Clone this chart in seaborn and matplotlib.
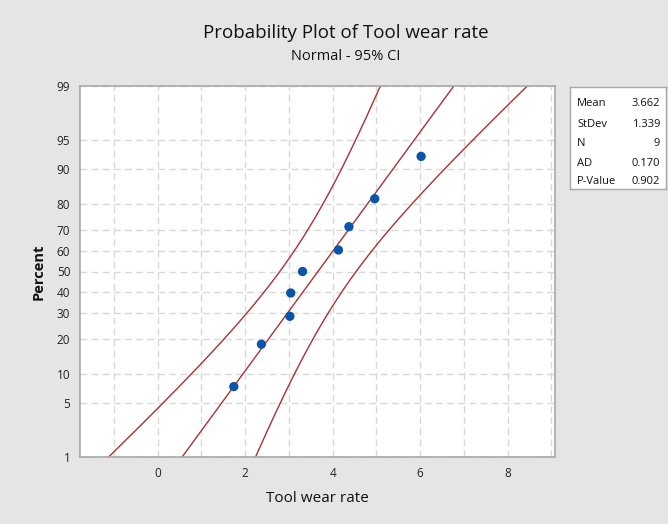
import numpy as np
import pandas as pd
import matplotlib
matplotlib.use("Agg")
import matplotlib.pyplot as plt
from matplotlib.ticker import FixedLocator, MultipleLocator
import seaborn as sns
from statistics import NormalDist

sns.set_theme(style="white")
plt.rcParams["font.family"] = ["Open Sans", "DejaVu Sans"]

# Observed tool wear rates (sorted)
wear_rate = [1.74, 2.37, 3.02, 3.04, 3.31, 4.13, 4.37, 4.96, 6.02]
# Summary statistics shown in the stats box
stat_names = ["Mean", "StDev", "N", "AD", "P-Value"]
stat_values = ["3.662", "1.339", "9", "0.170", "0.902"]
# Percent axis ticks
pct_ticks = [1, 5, 10, 20, 30, 40, 50, 60, 70, 80, 90, 95, 99]
x_ticks = [0, 2, 4, 6, 8]

nd = NormalDist()
x = np.array(wear_rate)
n = len(x)
# Median-rank plotting positions, mapped to normal quantiles
ranks = np.arange(1, n + 1)
pp = (ranks - 0.3) / (n + 0.4)
zp = np.array([nd.inv_cdf(p) for p in pp])

mu = x.mean()
sd = x.std(ddof=1)

# Fitted line and 95% confidence bounds on percentiles
zmin, zmax = nd.inv_cdf(0.01), nd.inv_cdf(0.99)
zz = np.linspace(zmin - 0.3, zmax + 0.3, 300)
fit = mu + zz * sd
half = 1.96 * np.sqrt(sd**2 / n + zz**2 * sd**2 / (2 * n))
curves = pd.concat([
    pd.DataFrame({"x": fit, "z": zz, "curve": "fit"}),
    pd.DataFrame({"x": fit - half, "z": zz, "curve": "lower"}),
    pd.DataFrame({"x": fit + half, "z": zz, "curve": "upper"}),
])
pts = pd.DataFrame({"x": x, "z": zp})

W, H = 668, 524
fig = plt.figure(figsize=(W / 100, H / 100), dpi=100)
fig.patch.set_facecolor("#e5e5e5")
ax = fig.add_axes([80 / W, (H - 457) / H, 475 / W, 371 / H])
ax.set_facecolor("white")

line_col = "#a83232"
for name, grp in curves.groupby("curve"):
    sns.lineplot(data=grp, x="x", y="z", ax=ax, sort=False, estimator=None,
                 color=line_col, linewidth=1.0, legend=False)
sns.scatterplot(data=pts, x="x", y="z", ax=ax, color="#0b55a8", s=45,
                edgecolor="none", zorder=5, legend=False)

ax.set_xlim(-1.776, 9.08)
ax.set_ylim(zmin, zmax)

# Grid: dashed light gray
ax.xaxis.set_major_locator(FixedLocator(x_ticks))
ax.xaxis.set_minor_locator(MultipleLocator(1))
ax.set_xticklabels([str(t) for t in x_ticks])
ytick_z = [nd.inv_cdf(p / 100) for p in pct_ticks]
ax.yaxis.set_major_locator(FixedLocator(ytick_z))
ax.set_yticklabels([str(p) for p in pct_ticks])
ax.grid(True, which="both", axis="x", color="#d8d8d8", linestyle=(0, (5, 3)), linewidth=1)
ax.grid(True, which="major", axis="y", color="#d8d8d8", linestyle=(0, (5, 3)), linewidth=1)
ax.set_axisbelow(True)

for sp in ax.spines.values():
    sp.set_color("#a8a8a8")
    sp.set_linewidth(1.2)
ax.tick_params(axis="both", which="major", direction="out", length=4, width=1,
               color="#a8a8a8", labelsize=8.5, labelcolor="#222222", pad=3)
ax.tick_params(axis="both", which="minor", length=0)

ax.set_xlabel("Tool wear rate", fontsize=11, color="#111111", labelpad=8)
ax.set_ylabel("Percent", fontsize=10.5, color="#111111", fontweight="bold", labelpad=8)

fig.text(346 / W, 1 - 33 / H, "Probability Plot of Tool wear rate", ha="center",
         va="center", fontsize=13.5, color="#111111")
fig.text(346 / W, 1 - 57 / H, "Normal - 95% CI", ha="center", va="center",
         fontsize=10.5, color="#111111")

# Stats box
box = fig.add_axes([570 / W, (H - 189) / H, 96 / W, 102 / H])
box.set_xticks([])
box.set_yticks([])
box.set_facecolor("white")
for sp in box.spines.values():
    sp.set_color("#a8a8a8")
    sp.set_linewidth(1)
row_y = [104, 124, 144, 163, 182]
for name, val, yy in zip(stat_names, stat_values, row_y):
    fig.text(577 / W, 1 - yy / H, name, ha="left", va="center", fontsize=8, color="#111111")
    fig.text(660 / W, 1 - yy / H, val, ha="right", va="center", fontsize=8, color="#111111")

fig.savefig("out.png", dpi=100, facecolor=fig.get_facecolor())
